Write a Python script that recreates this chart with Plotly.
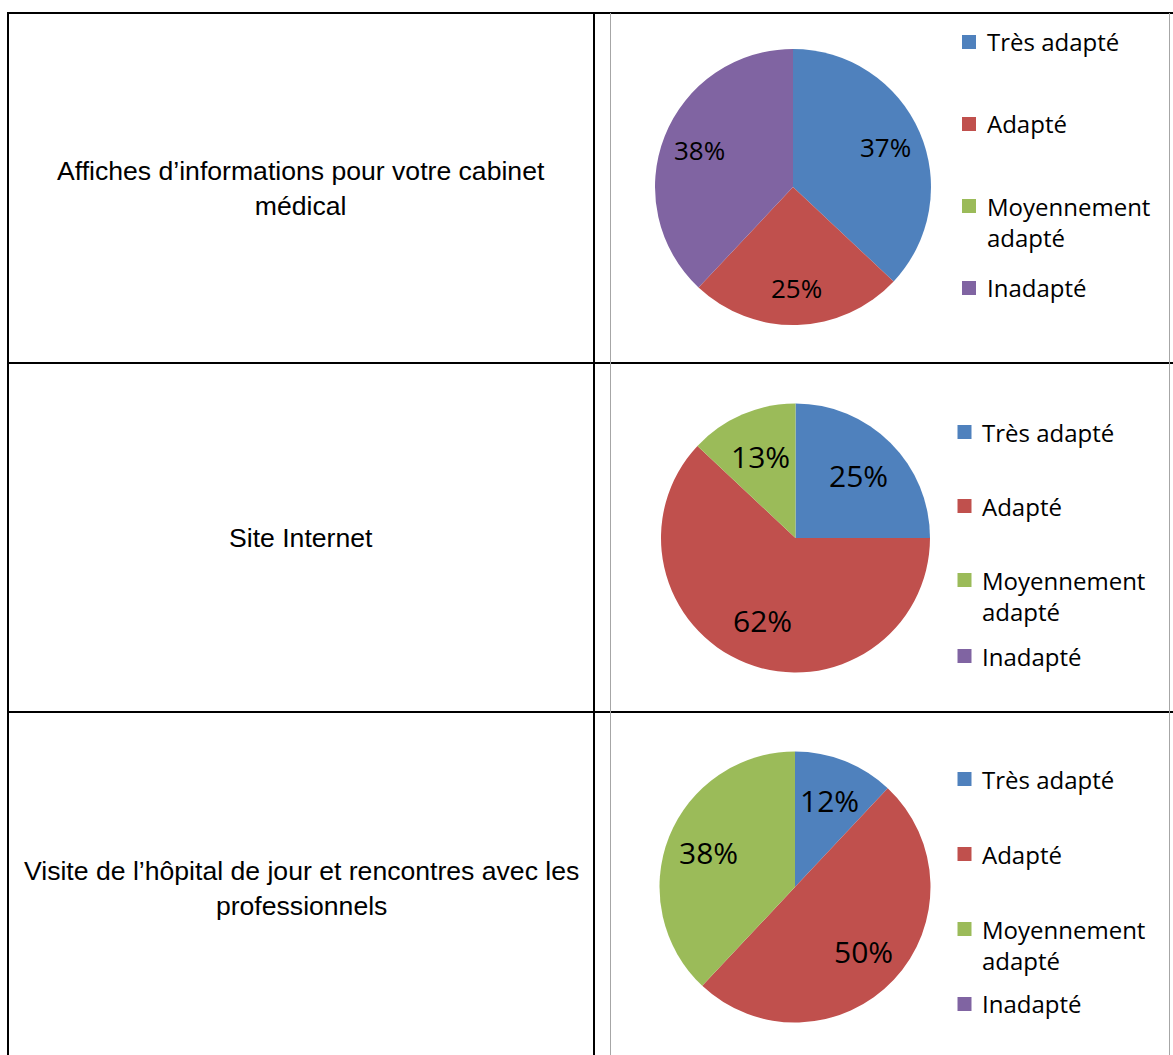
import math
import plotly.graph_objects as go

# ---------------- data ----------------
categories = ["Très adapté", "Adapté", "Moyennement adapté", "Inadapté"]
legend_labels = ["Très adapté", "Adapté", "Moyennement<br>adapté", "Inadapté"]
row_titles = [
    "Affiches d’informations pour votre cabinet<br>médical",
    "Site Internet",
    "Visite de l’hôpital de jour et rencontres avec les<br>professionnels",
]
affiches = [37, 25, 0, 38]
site_internet = [25, 62, 13, 0]
visite = [12, 50, 38, 0]
colors = ["#4F81BD", "#C0504D", "#9BBB59", "#8064A2"]

series = [affiches, site_internet, visite]

# ---------------- layout constants (pixels) ----------------
W, H = 1173, 1055
def px(x):
    return x / W
def py(y):
    return 1 - y / H

pie_geo = [  # (cx, cy, r)
    (793, 187, 138),
    (795.5, 538, 134.5),
    (795, 887, 135.5),
]
label_frac = [0.73, 0.66, 0.69]   # radial position of the % labels
pct_font = [26, 30, 30]
row_text_y = [188.5, 538, 888.5]
legend_geo = [  # square center x, text left x, first-line y of each item
    (969, 985, [42, 124, 206, 288]),
    (964.5, 980, [432, 506, 580, 656]),
    (964.5, 980, [779, 854, 929, 1004]),
]
LEG_FONT = 24
LINE_H = 1.3 * LEG_FONT
SQ = 14

fig = go.Figure()
annotations = []

for i, vals in enumerate(series):
    cx, cy, r = pie_geo[i]
    fig.add_trace(go.Pie(
        labels=categories,
        values=vals,
        sort=False,
        direction="clockwise",
        rotation=0,
        marker=dict(colors=colors, line=dict(width=0)),
        textinfo="none",
        domain=dict(x=[px(cx - r), px(cx + r)], y=[py(cy + r), py(cy - r)]),
        showlegend=False,
        hoverinfo="label+percent",
    ))
    # percentage labels placed at the mid-angle of each slice
    total = float(sum(vals))
    cum = 0.0
    for v in vals:
        if v > 0:
            mid = (cum + v / 2.0) / total * 2 * math.pi
            lx = cx + label_frac[i] * r * math.sin(mid)
            ly = cy - label_frac[i] * r * math.cos(mid)
            annotations.append(dict(
                x=px(lx), y=py(ly), xref="paper", yref="paper",
                text="{:.0f}%".format(100.0 * v / total), showarrow=False,
                xanchor="center", yanchor="middle",
                font=dict(family="Open Sans", size=pct_font[i], color="#000000"),
            ))
        cum += v

shapes = []
BLACK = dict(color="#000000", width=2)
GRAY = dict(color="#a6a6a6", width=1)
# table borders
shapes.append(dict(type="line", xref="paper", yref="paper", x0=px(7), x1=px(1173), y0=py(13), y1=py(13), line=BLACK))
shapes.append(dict(type="line", xref="paper", yref="paper", x0=px(8), x1=px(8), y0=py(13), y1=py(1055), line=BLACK))
shapes.append(dict(type="line", xref="paper", yref="paper", x0=px(594), x1=px(594), y0=py(13), y1=py(1055), line=BLACK))
for yy in (363, 712):
    shapes.append(dict(type="line", xref="paper", yref="paper", x0=px(7), x1=px(1173), y0=py(yy), y1=py(yy), line=BLACK))
# chart frames
for xx in (610.5, 1169.5):
    shapes.append(dict(type="line", xref="paper", yref="paper", x0=px(xx), x1=px(xx), y0=py(13), y1=py(1055), line=GRAY))

for i, t in enumerate(row_titles):
    annotations.append(dict(
        x=px(301), y=py(row_text_y[i]), xref="paper", yref="paper",
        text=t, showarrow=False, xanchor="center", yanchor="middle",
        font=dict(family="Liberation Sans, Arial", size=26.6, color="#000000"),
    ))

# legends
for i in range(3):
    sqx, tx, ys = legend_geo[i]
    for k, lab in enumerate(legend_labels):
        y0 = ys[k]
        nlines = lab.count("<br>") + 1
        shapes.append(dict(
            type="rect", xref="paper", yref="paper",
            x0=px(sqx - SQ / 2), x1=px(sqx + SQ / 2),
            y0=py(y0 + SQ / 2), y1=py(y0 - SQ / 2),
            fillcolor=colors[k], line=dict(width=0),
        ))
        annotations.append(dict(
            x=px(tx), y=py(y0 + (nlines - 1) * LINE_H / 2), xref="paper", yref="paper",
            text=lab, showarrow=False, xanchor="left", yanchor="middle", align="left",
            font=dict(family="Open Sans", size=LEG_FONT, color="#000000"),
        ))

fig.update_layout(
    width=W, height=H,
    margin=dict(l=0, r=0, t=0, b=0),
    paper_bgcolor="#ffffff",
    plot_bgcolor="#ffffff",
    shapes=shapes,
    annotations=annotations,
    showlegend=False,
)

fig.write_html(
    "out.html",
    config={"displayModeBar": False},
    post_script="document.body.style.margin='0px';",
)
